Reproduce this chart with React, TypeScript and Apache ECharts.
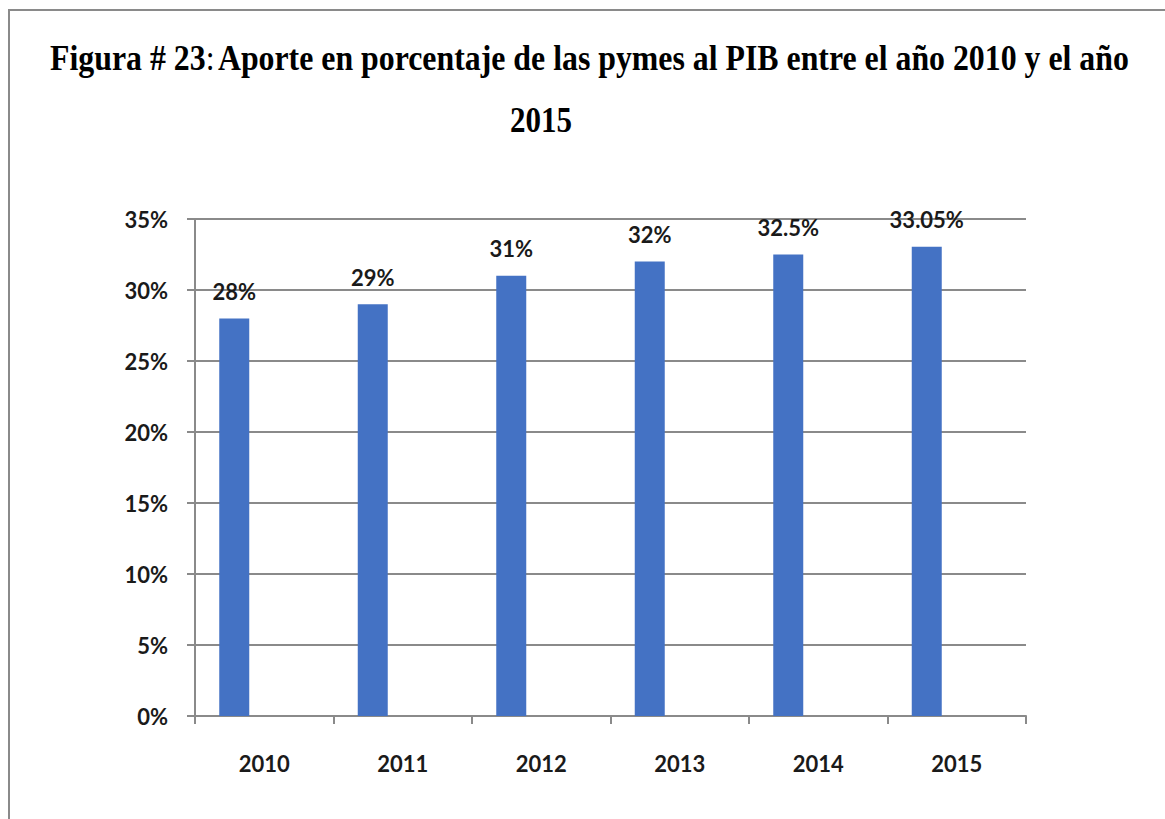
import React, { useEffect, useRef } from "react";
import * as echarts from "echarts";

const categories = ["2010", "2011", "2012", "2013", "2014", "2015"];
const values = [28, 29, 31, 32, 32.5, 33.05];
const valueLabels = ["28%", "29%", "31%", "32%", "32.5%", "33.05%"];
const emptySeries = [null, null, null, null, null, null];
const yTicks = [0, 5, 10, 15, 20, 25, 30, 35];
const titleLine1 = "Aporte en porcentaje de las pymes al PIB entre el año 2010 y el año";
const titleLine2 = "2015";

export default function App() {
  const ref = useRef<HTMLDivElement>(null);
  useEffect(() => {
    const chart = echarts.init(ref.current!, null, { renderer: "svg" });
    const labelFont = { fontFamily: "Lato", fontWeight: "bold" as const, fontSize: 22, color: "#1a1a1a" };
    chart.setOption({
      animation: false,
      backgroundColor: "#ffffff",
      graphic: [
        {
          type: "rect",
          shape: { x: 9, y: 10, width: 1300, height: 1000 },
          style: { fill: "none", stroke: "#8a8a8a", lineWidth: 2 },
        },
        {
          type: "text",
          x: 50,
          y: 76,
          scaleX: 1.027,
          scaleY: 1.17,
          style: {
            text: "{b|Figura # 23}{n|:} {b|" + titleLine1 + "}",
            textVerticalAlign: "bottom",
            fill: "#000",
            rich: {
              b: { fontFamily: "Liberation Serif", fontWeight: "bold", fontSize: 31, fill: "#000" },
              n: { fontFamily: "Liberation Serif", fontWeight: "normal", fontSize: 31, fill: "#000" },
            },
          },
        },
        {
          type: "text",
          x: 510,
          y: 138,
          scaleY: 1.17,
          style: {
            text: titleLine2,
            fontFamily: "Liberation Serif",
            fontWeight: "bold",
            fontSize: 31,
            fill: "#000",
            textVerticalAlign: "bottom",
          },
        },
      ],
      grid: { left: 195, right: 139, top: 219, bottom: 103 },
      xAxis: {
        type: "category",
        data: categories,
        axisLine: { lineStyle: { color: "#8a8a8a", width: 2 } },
        axisTick: { show: true, length: 8, lineStyle: { color: "#8a8a8a", width: 2 } },
        axisLabel: { ...labelFont, margin: 36 },
      },
      yAxis: {
        type: "value",
        min: 0,
        max: 35,
        interval: 5,
        axisLine: { show: true, lineStyle: { color: "#8a8a8a", width: 2 } },
        axisTick: { show: true, length: 8, lineStyle: { color: "#8a8a8a", width: 2 } },
        splitLine: { show: true, lineStyle: { color: "#8a8a8a", width: 2 } },
        axisLabel: {
          ...labelFont,
          margin: 27,
          formatter: (v: number) => (yTicks.includes(v) ? v + "%" : ""),
        },
      },
      series: [
        {
          type: "bar",
          data: values,
          barWidth: 30,
          barGap: "100%",
          itemStyle: { color: "#4472C4" },
          label: {
            show: true,
            position: "top",
            distance: 16,
            ...labelFont,
            formatter: (p: any) => valueLabels[p.dataIndex],
          },
        },
        {
          type: "bar",
          data: emptySeries,
          barWidth: 30,
          itemStyle: { color: "#4472C4" },
        },
      ],
    });
    return () => chart.dispose();
  }, []);
  return (
    <div
      ref={ref}
      style={{ position: "fixed", left: 0, top: 0, width: 1165, height: 819 }}
    />
  );
}
